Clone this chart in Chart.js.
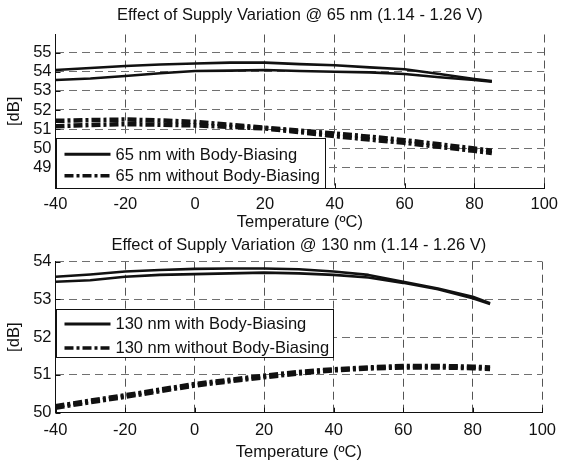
<!DOCTYPE html>
<html>
<head>
<meta charset="utf-8">
<script src="https://cdn.jsdelivr.net/npm/chart.js@4/dist/chart.umd.min.js"></script>
<style>
  html, body { margin: 0; padding: 0; background: #fff; overflow: hidden; }
  #wrap { position: relative; width: 564px; height: 461px; }
  canvas { position: absolute; left: 0; }
  #c65 { top: 0; }
  #c130 { top: 230px; }
</style>
</head>
<body>
<div id="wrap">
  <canvas id="c65" width="564" height="230"></canvas>
  <canvas id="c130" width="564" height="231"></canvas>
</div>
<script>
// Temperature sweep (°C)
const temps = [-40, -30, -20, -10, 0, 10, 20, 30, 40, 50, 60, 70, 80, 85];
const xTicks = [-40, -20, 0, 20, 40, 60, 80, 100];

// 65 nm, dB, two supply corners each
const with65A    = [54.09, 54.20, 54.30, 54.38, 54.43, 54.48, 54.48, 54.40, 54.34, 54.23, 54.13, 53.88, 53.62, 53.51];
const with65B    = [53.57, 53.65, 53.78, 53.92, 54.04, 54.06, 54.09, 54.04, 54.00, 53.97, 53.88, 53.71, 53.57, 53.48];
const without65A = [51.43, 51.47, 51.50, 51.45, 51.38, 51.23, 51.07, 50.92, 50.77, 50.60, 50.42, 50.20, 49.98, 49.86];
const without65B = [51.15, 51.21, 51.26, 51.23, 51.19, 51.12, 51.03, 50.84, 50.63, 50.45, 50.28, 50.07, 49.86, 49.75];
const yTicks65 = [49, 50, 51, 52, 53, 54, 55];

// 130 nm, dB, two supply corners each
const with130A    = [53.60, 53.66, 53.74, 53.78, 53.81, 53.82, 53.82, 53.80, 53.74, 53.65, 53.47, 53.29, 53.07, 52.90];
const with130B    = [53.47, 53.51, 53.60, 53.65, 53.67, 53.69, 53.71, 53.69, 53.65, 53.58, 53.44, 53.27, 53.03, 52.88];
const without130A = [50.17, 50.32, 50.46, 50.61, 50.76, 50.87, 50.98, 51.08, 51.15, 51.20, 51.24, 51.24, 51.22, 51.20];
const without130B = [50.13, 50.28, 50.42, 50.57, 50.72, 50.83, 50.94, 51.04, 51.12, 51.17, 51.20, 51.20, 51.18, 51.16];
const yTicks130 = [50, 51, 52, 53, 54];

const FONT = '"Liberation Sans", Arial, Helvetica, sans-serif';
const FS = 16.5;
const INK = '#111';
const DASH_DOT = [9, 3, 3, 3];
const GRID_DASH = [8, 5];

const pts = (vals) => temps.map((t, i) => ({ x: t, y: vals[i] }));

const solid = (vals) => ({
  data: pts(vals), borderColor: INK, borderWidth: 2.6,
  pointRadius: 0, tension: 0, borderCapStyle: 'butt', borderJoinStyle: 'round'
});
const dashDot = (vals) => ({
  data: pts(vals), borderColor: INK, borderWidth: 4.5, borderDash: DASH_DOT,
  pointRadius: 0, tension: 0, borderCapStyle: 'butt', borderJoinStyle: 'round'
});

// Plot title, centred over the plotting area
const plotTitle = {
  id: 'plotTitle',
  afterDraw(chart, args, opts) {
    const { ctx, chartArea: a } = chart;
    ctx.save();
    ctx.fillStyle = INK;
    ctx.font = FS + 'px ' + FONT;
    ctx.textAlign = 'center';
    ctx.textBaseline = 'middle';
    ctx.fillText(opts.text, (a.left + a.right) / 2, opts.y);
    ctx.restore();
  }
};

// Short inward tick marks on the left and bottom axes
const innerTicks = {
  id: 'innerTicks',
  afterDatasetsDraw(chart) {
    const { ctx, chartArea: a, scales: { x, y } } = chart;
    ctx.save();
    ctx.strokeStyle = INK;
    ctx.lineWidth = 1;
    ctx.beginPath();
    x.ticks.forEach(t => {
      const px = Math.round(x.getPixelForValue(t.value)) + 0.5;
      ctx.moveTo(px, a.bottom); ctx.lineTo(px, a.bottom - 5);
    });
    y.ticks.forEach(t => {
      const py = Math.round(y.getPixelForValue(t.value)) + 0.5;
      ctx.moveTo(a.left, py); ctx.lineTo(a.left + 5, py);
    });
    ctx.stroke();
    ctx.restore();
  }
};

// Boxed legend sitting in the lower-left corner of the plot
const boxLegend = {
  id: 'boxLegend',
  afterDatasetsDraw(chart, args, opts) {
    const { ctx, chartArea: a, scales: { x, y } } = chart;
    const left = Math.round(a.left) + 0.5;
    const top = Math.round(y.getPixelForValue(opts.topValue)) + 0.5;
    const bottom = opts.bottomValue != null ? Math.round(y.getPixelForValue(opts.bottomValue)) + 0.5 : Math.round(a.bottom) + 0.5;
    const right = Math.round(x.getPixelForValue(opts.rightValue)) + 0.5;
    ctx.save();
    ctx.fillStyle = '#fff';
    ctx.fillRect(left, top, right - left, bottom - top);
    ctx.strokeStyle = INK;
    ctx.lineWidth = 1;
    ctx.setLineDash([]);
    ctx.strokeRect(left, top, right - left, bottom - top);
    opts.items.forEach((it, i) => {
      const ry = top + opts.rows[i];
      ctx.beginPath();
      ctx.lineWidth = it.width;
      ctx.setLineDash(it.dash);
      ctx.lineCap = 'butt';
      ctx.moveTo(left + 8, ry);
      ctx.lineTo(left + 54, ry);
      ctx.stroke();
      ctx.setLineDash([]);
      ctx.fillStyle = INK;
      ctx.font = FS + 'px ' + FONT;
      ctx.textBaseline = 'middle';
      ctx.textAlign = 'left';
      ctx.fillText(it.label, left + 59, ry + 1);
    });
    ctx.restore();
  }
};

function makeChart(id, cfg) {
  return new Chart(document.getElementById(id), {
    type: 'line',
    data: { datasets: cfg.datasets },
    plugins: [innerTicks, boxLegend, plotTitle],
    options: {
      responsive: false,
      animation: false,
      layout: { padding: { left: 0, right: 15, top: cfg.plotTop, bottom: 0 } },
      plugins: {
        legend: { display: false },
        tooltip: { enabled: false },
        title: { display: false },
        plotTitle: { text: cfg.title, y: 15 },
        boxLegend: cfg.legend
      },
      scales: {
        x: {
          type: 'linear',
          min: -40, max: 100,
          afterBuildTicks: s => { s.ticks = xTicks.map(v => ({ value: v })); },
          afterFit: s => { s.height = cfg.xAxisHeight; },
          grid: { color: '#555', lineWidth: 1, drawTicks: false },
          border: { display: true, color: INK, width: 1, dash: GRID_DASH },
          ticks: { color: INK, padding: cfg.xTickPad, font: { family: FONT, size: FS } },
          title: {
            display: true, text: 'Temperature (ºC)', color: INK,
            font: { family: FONT, size: FS, lineHeight: 1 },
            padding: { top: 0, bottom: cfg.xTitlePad }
          }
        },
        y: {
          type: 'linear',
          min: cfg.yMin, max: cfg.yMax,
          afterBuildTicks: s => { s.ticks = cfg.yTicks.map(v => ({ value: v })); },
          afterFit: s => { s.width = 55.5; },
          grid: { color: '#707070', lineWidth: 1, drawTicks: false },
          border: { display: true, color: INK, width: 1, dash: GRID_DASH },
          ticks: { color: INK, padding: 4, font: { family: FONT, size: FS } },
          title: {
            display: true, text: '[dB]', color: INK,
            font: { family: FONT, size: FS, lineHeight: 1.2 },
            padding: { top: 5, bottom: 0 }
          }
        }
      }
    }
  });
}

makeChart('c65', {
  title: 'Effect of Supply Variation @ 65 nm (1.14 - 1.26 V)',
  plotTop: 34.5,
  yMin: 47.9, yMax: 55.95, yTicks: yTicks65,
  xAxisHeight: 41.7, xTickPad: 6, xTitlePad: -1,
  datasets: [solid(with65A), solid(with65B), dashDot(without65A), dashDot(without65B)],
  legend: {
    topValue: 50.54, rightValue: 37.2, rows: [15.8, 37.3],
    items: [
      { label: '65 nm with Body-Biasing', dash: [], width: 3 },
      { label: '65 nm without Body-Biasing', dash: DASH_DOT, width: 3.5 }
    ]
  }
});

makeChart('c130', {
  title: 'Effect of Supply Variation @ 130 nm (1.14 - 1.26 V)',
  plotTop: 31.7,
  yMin: 50, yMax: 54, yTicks: yTicks130,
  xAxisHeight: 48.3, xTickPad: 8, xTitlePad: 0,
  datasets: [solid(with130A), solid(with130B), dashDot(without130A), dashDot(without130B)],
  legend: {
    topValue: 52.75, bottomValue: 51.465, rightValue: 39.8, rows: [14.4, 38.4],
    items: [
      { label: '130 nm with Body-Biasing', dash: [], width: 3 },
      { label: '130 nm without Body-Biasing', dash: DASH_DOT, width: 3.5 }
    ]
  }
});
</script>
</body>
</html>
